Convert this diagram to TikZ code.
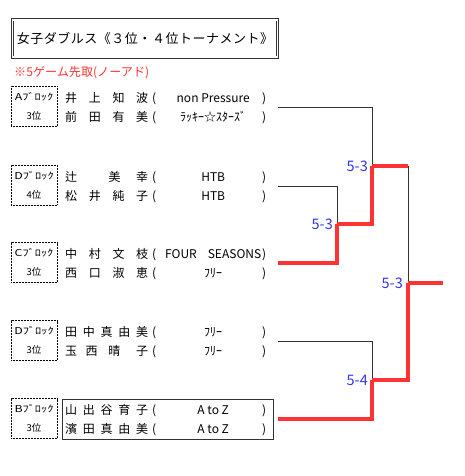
\documentclass[tikz,border=0pt]{standalone}
\usepackage{fontspec}
\setmainfont{Noto Sans CJK JP}
\usetikzlibrary{positioning}
\definecolor{winred}{HTML}{FF3333}
\definecolor{scoreblue}{HTML}{3333EE}
\definecolor{linegrey}{HTML}{333333}
% one line of a pair: name, club in brackets
\newcommand{\entry}[2]{\makebox[83pt][s]{#1}\makebox[12pt]{(}\makebox[106pt]{#2}\llap{)}}
% block name, set wide
\newcommand{\blkname}[1]{{\addfontfeatures{FakeStretch=1.3}#1ﾌﾞﾛｯｸ}}
\tikzset{
    title/.style={
        rectangle, draw=linegrey, line width=0.7pt,
        double, double distance=1.8pt,
        minimum width=265pt, minimum height=37.5pt,
        font=\fontsize{13}{13}\selectfont\addfontfeatures{LetterSpace=4}
    },
    note/.style={
        anchor=west, inner sep=0pt, text=winred,
        font=\fontsize{12.1}{12.1}\selectfont
    },
    block/.style={
        rectangle, draw=black, line width=0.6pt,
        dash pattern=on 0.7pt off 0.8pt,
        minimum width=46pt, minimum height=40pt, inner sep=0pt,
        align=center, font=\fontsize{9.5}{19}\selectfont
    },
    row/.style={
        anchor=west, inner sep=0pt,
        font=\fontsize{12}{12}\selectfont
    },
    teambox/.style={
        rectangle, draw=linegrey, line width=0.8pt,
        minimum width=211pt, minimum height=40pt, inner sep=0pt
    },
    score/.style={
        text=scoreblue, inner sep=0pt,
        font=\fontsize{14.5}{14.5}\selectfont
    },
    loss/.style={draw=linegrey, line width=0.8pt},
    win/.style={draw=winred, line width=3.5pt}
}

\begin{document}
\begin{tikzpicture}[x=1pt, y=-1pt]

    \useasboundingbox (0,0) rectangle (464,476);

    % --- Title ---
    \node[title] (title) at (145,38.6) {女子ダブルス《３位・４位トーナメント》};
    \node[note] (note) at (14,73) {※5ゲーム先取(ノーアド)};

    % --- Blocks ---
    \node[block] (blka) at (34,106.5) {\blkname{A}\\3位};
    \node[block] (blkd4) at (34,185) {\blkname{D}\\4位};
    \node[block] (blkc) at (34,262.5) {\blkname{C}\\3位};
    \node[block] (blkd3) at (34,340.5) {\blkname{D}\\3位};
    \node[block] (blkb) at (34,418.5) {\blkname{B}\\3位};

    % --- Pairs ---
    \node[row] (a1) at (65,99) {\entry{井\hfill 上\hfill 知\hfill 波}{non Pressure}};
    \node[row] (a2) at (65,117.5) {\entry{前\hfill 田\hfill 有\hfill 美}{ﾗｯｷｰ☆ｽﾀｰｽﾞ}};
    \node[row] (d41) at (65,178) {\entry{辻\hfill\hfill 美\hfill 幸}{HTB}};
    \node[row] (d42) at (65,196.5) {\entry{松\hfill 井\hfill 純\hfill 子}{HTB}};
    \node[row] (c1) at (65,255) {\entry{中\hfill 村\hfill 文\hfill 枝}{FOUR\hspace{11pt}SEASONS}};
    \node[row] (c2) at (65,273.5) {\entry{西\hfill 口\hfill 淑\hfill 恵}{ﾌﾘｰ}};
    \node[row] (d31) at (65,333) {\entry{田\hfill 中\hfill 真\hfill 由\hfill 美}{ﾌﾘｰ}};
    \node[row] (d32) at (65,351.5) {\entry{玉\hspace{0pt plus 1fill}西\hspace{0pt plus 1.3fill}晴\hspace{0pt plus 1.9fill}子}{ﾌﾘｰ}};
    \node[teambox] (bbox) at (167.5,419) {};
    \node[row] (b1) at (65,411) {\entry{山\hfill 出\hfill 谷\hfill 育\hfill 子}{A to Z}};
    \node[row] (b2) at (65,429.5) {\entry{濱\hfill 田\hfill 真\hfill 由\hfill 美}{A to Z}};

    % --- Bracket points ---
    \coordinate (t1) at (278,107);
    \coordinate (t2) at (278,186);
    \coordinate (t3) at (278,263);
    \coordinate (t4) at (278,341);
    \coordinate (t5) at (278,419);
    \coordinate (m1) at (337,224);
    \coordinate (m2) at (372,166);
    \coordinate (m3) at (372,380);
    \coordinate (m4) at (408,283);
    \coordinate (fin) at (443,283);

    % --- Lines ---
    \draw[loss] (t2) -| (m1);
    \draw[loss] (t1) -| (m2);
    \draw[loss] (t4) -| (m3);
    \draw[loss] (m2 -| m4) -- (m4);
    \draw[win] (t3) -| (m1);
    \draw[win] (m1) -| (m2);
    \draw[win] (m2) -- (m2 -| m4);
    \draw[win] (t5) -| (m3);
    \draw[win] (m3) -| (m4);
    \draw[win] (m4) -- (fin);

    % --- Scores ---
    \node[score, left=4pt of m1] (s1) {5-3};
    \node[score, left=4pt of m2] (s2) {5-3};
    \node[score, left=4pt of m3] (s3) {5-4};
    \node[score, left=5pt of m4] (s4) {5-3};

\end{tikzpicture}
\end{document}
